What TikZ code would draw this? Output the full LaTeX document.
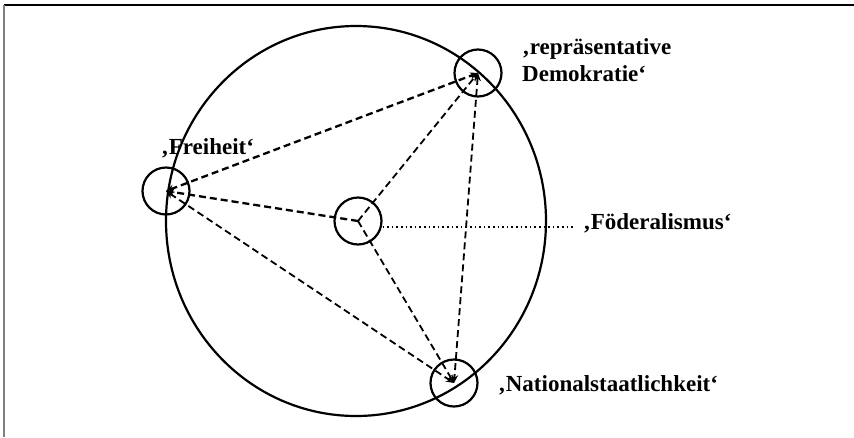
\documentclass[tikz,border=0pt]{standalone}
\usepackage{fontspec}
\setmainfont{Liberation Serif}
\usetikzlibrary{arrows.meta,shapes.geometric}
\begin{document}
\begin{tikzpicture}[x=1pt,y=-1pt,
  small/.style={circle,draw,line width=2.2pt,minimum size=47pt,inner sep=0pt},
  link/.style={line width=1.8pt,dash pattern=on 7pt off 4pt,-{Stealth[length=8pt,width=7pt]}},
  blink/.style={link,{Stealth[length=8pt,width=7pt]}-{Stealth[length=8pt,width=7pt]}},
  thick link/.style={line width=2.3pt},
  lbl/.style={font=\bfseries\fontsize{23}{27}\selectfont,inner sep=0pt,align=left}]
\useasboundingbox (0,0) rectangle (854,437);
\fill[white] (0,0) rectangle (854,437);
\draw[line width=1.5pt] (4,5) -- (854,5);
\draw[gray,line width=1.5pt] (4,5) -- (4,437);
\node[draw,ellipse,line width=2.2pt,minimum width=380pt,minimum height=390pt,inner sep=0pt] (big) at (356,221) {};
\node[small] (F) at (166,191) {};
\node[small] (C) at (358,221) {};
\node[small] (T) at (478,73) {};
\node[small] (B) at (454,383) {};
\draw[blink,thick link] (F.center) -- (T.center);
\draw[blink] (F.center) -- (B.center);
\draw[blink] (T.center) -- (B.center);
\draw[link,thick link] (C.center) -- (F.center);
\draw[link] (C.center) -- (T.center);
\draw[link] (C.center) -- (B.center);
\coordinate (dend) at (574,227);
\draw[line width=1.6pt,dash pattern=on 1.6pt off 3pt] (C.east |- dend) -- (dend);
\node[lbl,anchor=base west] (lF) at (161,154) {‚Freiheit‘};
\node[lbl,anchor=base west] (lT) at (522,81) {‚repräsentative\\Demokratie‘};
\node[lbl,anchor=base west] (lC) at (583,229) {‚Föderalismus‘};
\node[lbl,anchor=base west] (lB) at (498,391) {‚Nationalstaatlichkeit‘};
\end{tikzpicture}
\end{document}
